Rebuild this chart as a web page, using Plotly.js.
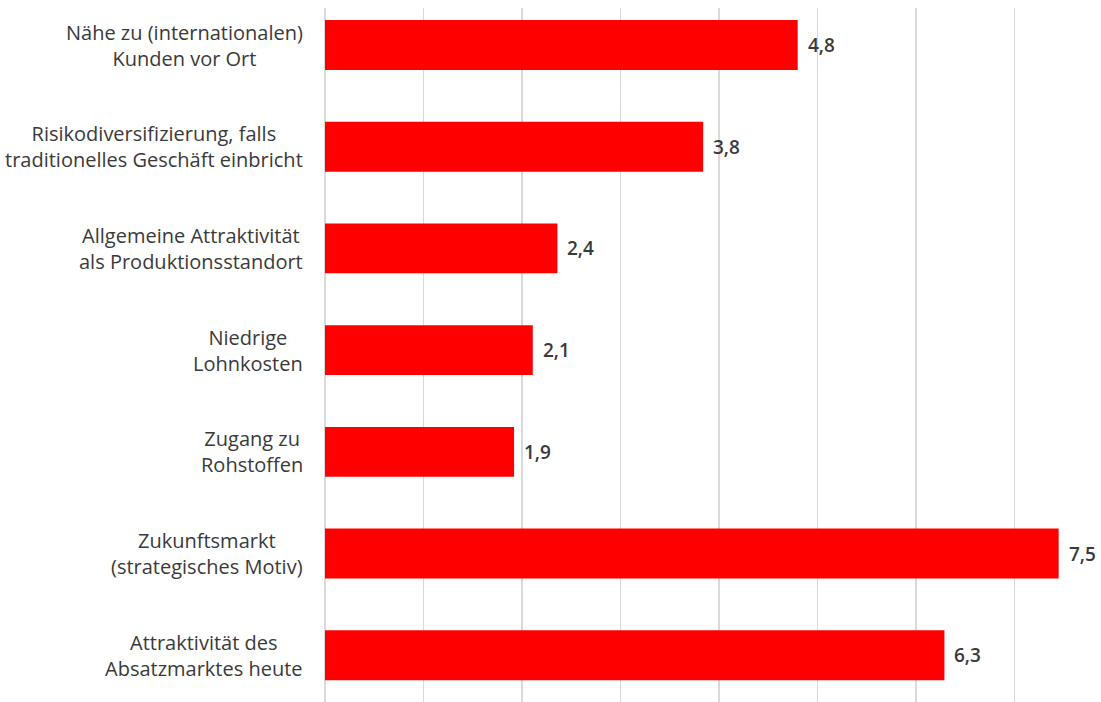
<!DOCTYPE html>
<html>
<head>
<meta charset="utf-8">
<script src="https://cdn.plot.ly/plotly-3.0.1.min.js"></script>
<style>html,body{margin:0;padding:0;background:#fff;}#chart{width:1101px;height:702px;}</style>
</head>
<body>
<div id="chart"></div>
<script>
const categories = [
  "Nähe zu (internationalen)<br>Kunden vor Ort",
  "Risikodiversifizierung, falls<br>traditionelles Geschäft einbricht",
  "Allgemeine Attraktivität<br>als Produktionsstandort",
  "Niedrige<br>Lohnkosten",
  "Zugang zu<br>Rohstoffen",
  "Zukunftsmarkt<br>(strategisches Motiv)",
  "Attraktivität des<br>Absatzmarktes heute"
];
const values = [4.8, 3.84, 2.36, 2.11, 1.92, 7.45, 6.29];
const valueLabels = ["4,8", "3,8", "2,4", "2,1", "1,9", "7,5", "6,3"];
const gridTicks = [0, 1, 2, 3, 4, 5, 6, 7];

const textColor = "#3a3a3a";
const fontFamily = "'Open Sans', sans-serif";

const trace = {
  type: "bar",
  orientation: "h",
  y: categories,
  x: values,
  width: 0.49,
  marker: { color: "#ff0000" },
  hoverinfo: "skip"
};

const valueAnnotations = values.map((v, i) => ({
  x: v, y: categories[i], xref: "x", yref: "y",
  text: valueLabels[i], showarrow: false,
  xanchor: "left", yanchor: "middle", xshift: 8,
  font: { family: fontFamily, size: 19, color: textColor, weight: 600 }
}));

const categoryAnnotations = categories.map((c) => ({
  x: 0, y: c, xref: "paper", yref: "y",
  text: c, showarrow: false, align: "center",
  xanchor: "right", yanchor: "middle", xshift: -20,
  font: { family: fontFamily, size: 20, color: textColor }
}));

const layout = {
  width: 1101, height: 702,
  margin: { l: 325, r: 0, t: 8, b: 0 },
  paper_bgcolor: "#ffffff", plot_bgcolor: "#ffffff",
  showlegend: false,
  xaxis: {
    range: [0, 7.88],
    tickvals: gridTicks,
    showticklabels: false,
    showgrid: true, gridcolor: "#d9d9d9", gridwidth: 1.5,
    zeroline: true, zerolinecolor: "#d9d9d9", zerolinewidth: 1.5,
    showline: false, fixedrange: true
  },
  yaxis: {
    type: "category",
    range: [6.46, -0.364],
    showticklabels: false,
    showgrid: false, zeroline: false, showline: false,
    fixedrange: true
  },
  annotations: valueAnnotations.concat(categoryAnnotations)
};

Plotly.newPlot("chart", [trace], layout, { displayModeBar: false, staticPlot: true });
</script>
</body>
</html>
